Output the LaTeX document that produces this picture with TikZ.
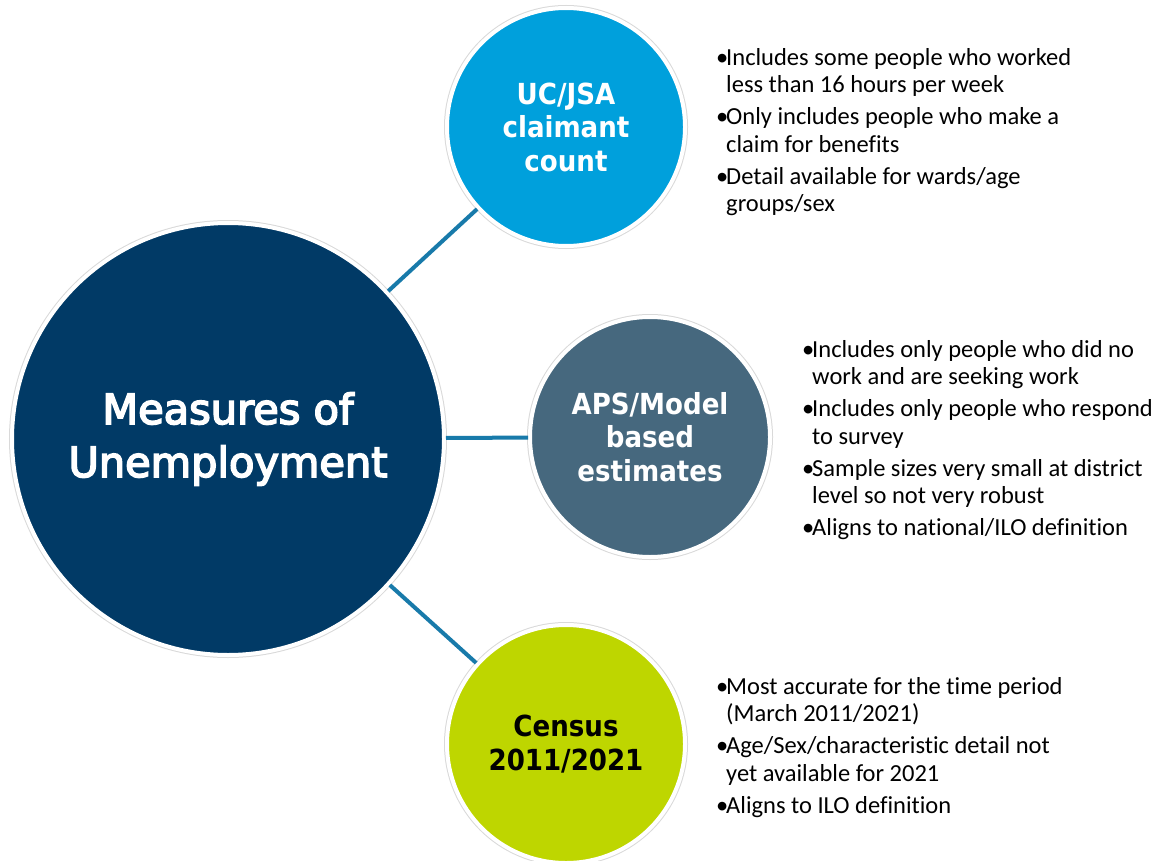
\documentclass[tikz,border=0pt]{standalone}
\usepackage{fontspec}
\setmainfont{Carlito}[Ligatures=NoCommon]
\newfontfamily\headfont{DejaVu Sans}[FakeBold=4]
\newfontfamily\bubfont{DejaVu Sans Condensed Bold}
\usetikzlibrary{positioning}

\definecolor{navy}{HTML}{013A66}
\definecolor{skyblue}{HTML}{00A0DC}
\definecolor{slate}{HTML}{46687E}
\definecolor{lime}{HTML}{BED600}
\definecolor{linkblue}{HTML}{187AAA}

\newcommand{\bul}{\makebox[10pt][l]{•}}
\newcommand{\ind}{\hspace*{10pt}}

\begin{document}
\begin{tikzpicture}[
  x=1pt, y=-1pt,
  bubble/.style={circle, inner sep=0pt, align=center, draw=white, line width=4pt,
                 preaction={draw=black!15, line width=6pt}},
  small/.style={bubble, minimum size=238pt,
                font=\bubfont\fontsize{29}{33.5}\selectfont},
  link/.style={draw=linkblue, line width=4pt},
  notes/.style={anchor=north west, inner sep=0pt, align=left,
                font=\fontsize{24.5}{27.5}\selectfont},
]
  \useasboundingbox[fill=white] (0,0) rectangle (1161,861);

  % --- bubbles ---
  \node[bubble, fill=navy, text=white, minimum size=432pt,
        font=\headfont\fontsize{41.5}{53}\selectfont] (main) at (228,439)
    {Measures of\\Unemployment};
  \node[small, fill=skyblue, text=white] (uc) at (566,127)
    {UC/JSA\\claimant\\count};
  \node[small, fill=slate, text=white, minimum size=240pt] (aps) at (650,437)
    {APS/Model\\based\\estimates};
  \node[small, fill=lime, text=black] (census) at (566,744)
    {Census\\2011/2021};

  % --- links ---
  \draw[link] (main) -- (uc);
  \draw[link] (main) -- (aps);
  \draw[link] (main) -- (census);

  % --- notes ---
  \node[notes] (ucnotes) at (716,48)
    {\bul Includes some people who worked\\
     \ind less than 16 hours per week\\[4.5pt]
     \bul Only includes people who make a\\
     \ind claim for benefits\\[4.5pt]
     \bul Detail available for wards/age\\
     \ind groups/sex};
  \node[notes] (apsnotes) at (802,340)
    {\bul Includes only people who did no\\
     \ind work and are seeking work\\[4.5pt]
     \bul Includes only people who respond\\
     \ind to survey\\[4.5pt]
     \bul Sample sizes very small at district\\
     \ind level so not very robust\\[4.5pt]
     \bul Aligns to national/ILO definition};
  \node[notes] (censusnotes) at (716,677)
    {\bul Most accurate for the time period\\
     \ind (March 2011/2021)\\[4.5pt]
     \bul Age/Sex/characteristic detail not\\
     \ind yet available for 2021\\[4.5pt]
     \bul Aligns to ILO definition};
\end{tikzpicture}
\end{document}
